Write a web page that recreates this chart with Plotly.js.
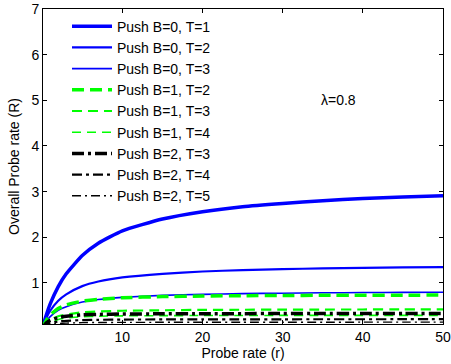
<!DOCTYPE html>
<html>
<head>
<meta charset="utf-8">
<script src="https://cdn.plot.ly/plotly-3.0.1.min.js"></script>
<style>html,body{margin:0;padding:0;background:#fff;}#chart{width:451px;height:364px;}</style>
</head>
<body>
<div id="chart"></div>
<script>
// Probe rate (r) sample points
const r = [0, 0.5, 1, 2, 3, 5, 7, 10, 15, 20, 25, 30, 35, 40, 45, 50];
// Overall probe rate (R)
const b0t1 = [0, 0.29, 0.54, 0.92, 1.2, 1.6, 1.87, 2.14, 2.4, 2.56, 2.67, 2.74, 2.8, 2.85, 2.88, 2.91];
const b0t2 = [0, 0.225, 0.39, 0.61, 0.75, 0.93, 1.03, 1.12, 1.2, 1.25, 1.28, 1.3, 1.32, 1.33, 1.34, 1.345];
const b0t3 = [0, 0.157, 0.26, 0.4, 0.48, 0.58, 0.636, 0.684, 0.727, 0.75, 0.765, 0.775, 0.783, 0.789, 0.793, 0.797];
const b1t2 = [0, 0.18, 0.3, 0.44, 0.52, 0.6, 0.64, 0.675, 0.7, 0.712, 0.72, 0.725, 0.728, 0.73, 0.732, 0.733];
const b1t3 = [0, 0.12, 0.19, 0.27, 0.31, 0.355, 0.375, 0.39, 0.4, 0.41, 0.412, 0.415, 0.417, 0.418, 0.419, 0.42];
const b1t4 = [0, 0.09, 0.14, 0.2, 0.23, 0.26, 0.27, 0.278, 0.283, 0.286, 0.287, 0.288, 0.289, 0.289, 0.29, 0.29];
const b2t3 = [0, 0.12, 0.18, 0.24, 0.27, 0.3, 0.31, 0.318, 0.323, 0.326, 0.327, 0.328, 0.329, 0.329, 0.33, 0.33];
const b2t4 = [0, 0.08, 0.12, 0.155, 0.17, 0.185, 0.192, 0.197, 0.2, 0.201, 0.202, 0.203, 0.204, 0.204, 0.205, 0.205];
const b2t5 = [0, 0.06, 0.09, 0.11, 0.12, 0.13, 0.133, 0.135, 0.137, 0.138, 0.138, 0.139, 0.139, 0.14, 0.14, 0.14];
const names = ["Push B=0, T=1","Push B=0, T=2","Push B=0, T=3","Push B=1, T=2","Push B=1, T=3","Push B=1, T=4","Push B=2, T=3","Push B=2, T=4","Push B=2, T=5"];
const xTicks = [10, 20, 30, 40, 50];
const yTicks = [1, 2, 3, 4, 5, 6, 7];

const series = [b0t1, b0t2, b0t3, b1t2, b1t3, b1t4, b2t3, b2t4, b2t5];
const styles = [
  {color:'#0000ff', width:3.5, dash:'solid'},
  {color:'#0000ff', width:2.2, dash:'solid'},
  {color:'#0000ff', width:1.6, dash:'solid'},
  {color:'#00ff00', width:3.5, dash:'12px,6px'},
  {color:'#00ff00', width:2.2, dash:'10px,6px'},
  {color:'#00ff00', width:1.6, dash:'9px,6px'},
  {color:'#000000', width:3.5, dash:'12px,4px,3px,4px'},
  {color:'#000000', width:2.2, dash:'10px,4px,3px,4px'},
  {color:'#000000', width:1.4, dash:'9px,4px,2px,4px'}
];
const traces = series.map((y, i) => ({
  x: r, y: y, name: names[i], type: 'scatter', mode: 'lines',
  line: {color: styles[i].color, width: styles[i].width, dash: styles[i].dash, shape: 'spline', smoothing: 0.5}
}));

const fam = 'Liberation Sans, Arial, sans-serif';
const layout = {
  width: 451, height: 364,
  margin: {l: 43, r: 8, t: 9, b: 40},
  paper_bgcolor: '#fff', plot_bgcolor: '#fff',
  font: {family: fam, size: 13, color: '#000'},
  showlegend: true,
  legend: {x: 0.06, y: 0.995, xanchor: 'left', yanchor: 'top', bgcolor: 'rgba(0,0,0,0)', borderwidth: 0, itemwidth: 40, font: {family: fam, size: 14, color: '#000'}, tracegroupgap: 0},
  xaxis: {range: [0.1, 50], tickvals: xTicks, ticks: 'inside', ticklen: 4, tickcolor: '#000', showline: true, linecolor: '#000', linewidth: 1, mirror: 'ticks', showgrid: false, zeroline: false,
    title: {text: 'Probe rate (r)', font: {size: 14}, standoff: 2}, tickfont: {size: 14}},
  yaxis: {range: [0.1, 7], tickvals: yTicks, ticks: 'inside', ticklen: 4, tickcolor: '#000', showline: true, linecolor: '#000', linewidth: 1, mirror: 'ticks', showgrid: false, zeroline: false,
    title: {text: 'Overall Probe rate (R)', font: {size: 14}, standoff: 8}, tickfont: {size: 14}},
  annotations: [{x: 37, y: 5, xref: 'x', yref: 'y', text: 'λ=0.8', showarrow: false, font: {size: 14}}]
};
Plotly.newPlot('chart', traces, layout, {displayModeBar: false, staticPlot: true});
</script>
</body>
</html>
